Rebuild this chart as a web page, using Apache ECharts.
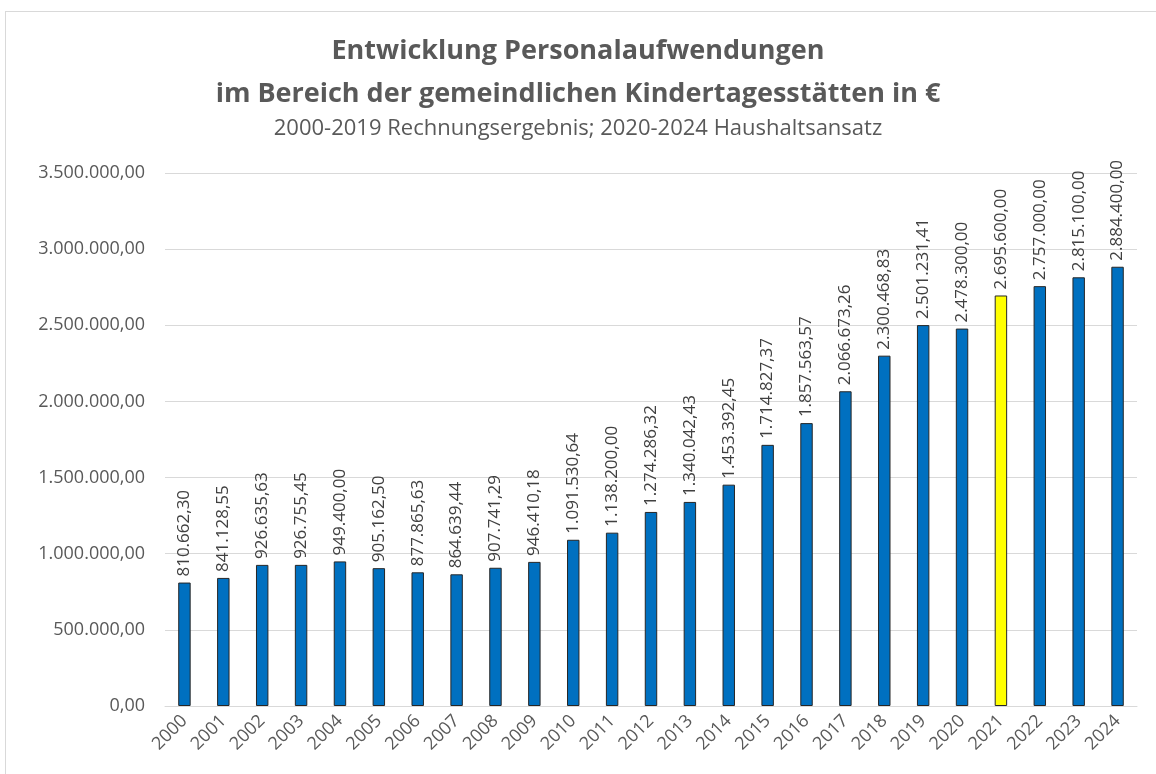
<!DOCTYPE html>
<html>
<head>
<meta charset="utf-8">
<script src="https://cdn.jsdelivr.net/npm/echarts@6/dist/echarts.min.js"></script>
<style>
  html, body { margin: 0; padding: 0; background: #fff; }
  #frame { position: absolute; left: 5px; top: 11px; width: 1160px; height: 780px; border: 1px solid #d9d9d9; box-sizing: border-box; }
  #chart { position: absolute; left: 0; top: 0; width: 1156px; height: 774px; }
</style>
</head>
<body>
<div id="frame"></div>
<div id="chart"></div>
<script>
  var years = ['2000', '2001', '2002', '2003', '2004', '2005', '2006', '2007', '2008', '2009',
    '2010', '2011', '2012', '2013', '2014', '2015', '2016', '2017', '2018', '2019',
    '2020', '2021', '2022', '2023', '2024'];
  var kosten = [810662.30, 841128.55, 926635.63, 926755.45, 949400.00, 905162.50, 877865.63,
    864639.44, 907741.29, 946410.18, 1091530.64, 1138200.00, 1274286.32, 1340042.43,
    1453392.45, 1714827.37, 1857563.57, 2066673.26, 2300468.83, 2501231.41, 2478300.00,
    2695600.00, 2757000.00, 2815100.00, 2884400.00];
  var markiertesJahr = '2021';

  // deutsches Zahlenformat 1.234.567,89
  function fmt(v) {
    var s = Number(v).toFixed(2).split('.');
    var ganz = s[0].replace(/\B(?=(\d{3})+(?!\d))/g, '.');
    return ganz + ',' + s[1];
  }

  var myChart = echarts.init(document.getElementById('chart'));
  var option = {
    animation: false,
    textStyle: { fontFamily: 'Open Sans' },
    title: [{
      text: 'Entwicklung Personalaufwendungen\nim Bereich der gemeindlichen Kindertagesstätten in €',
      left: 'center',
      top: 25,
      textStyle: {
        fontFamily: 'Open Sans',
        fontSize: 27,
        fontWeight: 'bold',
        color: '#595959',
        lineHeight: 43
      }
    }, {
      text: '2000-2019 Rechnungsergebnis; 2020-2024 Haushaltsansatz',
      left: 'center',
      top: 113,
      textStyle: {
        fontFamily: 'Open Sans',
        fontSize: 22,
        fontWeight: 'normal',
        color: '#595959'
      }
    }],
    grid: {
      left: 165,
      right: 19,
      top: 173,
      bottom: 68,
      containLabel: false
    },
    xAxis: {
      type: 'category',
      data: years,
      axisTick: { show: false },
      axisLine: { lineStyle: { color: '#d9d9d9' } },
      axisLabel: {
        interval: 0,
        rotate: 45,
        margin: 12,
        color: '#595959',
        fontSize: 18
      }
    },
    yAxis: {
      type: 'value',
      min: 0,
      max: 3500000,
      interval: 500000,
      axisLine: { show: false },
      axisTick: { show: false },
      splitLine: { lineStyle: { color: '#d9d9d9' } },
      axisLabel: {
        color: '#595959',
        fontSize: 18,
        margin: 20,
        formatter: function (v) { return fmt(v); }
      }
    },
    series: [{
      type: 'bar',
      barWidth: '32%',
      data: kosten.map(function (v, i) {
        return {
          value: v,
          itemStyle: { color: years[i] === markiertesJahr ? '#ffff00' : '#0070c0' }
        };
      }),
      itemStyle: {
        borderColor: '#262626',
        borderWidth: 1
      },
      label: {
        show: true,
        position: 'top',
        rotate: 90,
        align: 'left',
        verticalAlign: 'middle',
        distance: 6,
        color: '#404040',
        fontSize: 17,
        formatter: function (p) { return fmt(p.value); }
      }
    }]
  };
  myChart.setOption(option);
</script>
</body>
</html>
